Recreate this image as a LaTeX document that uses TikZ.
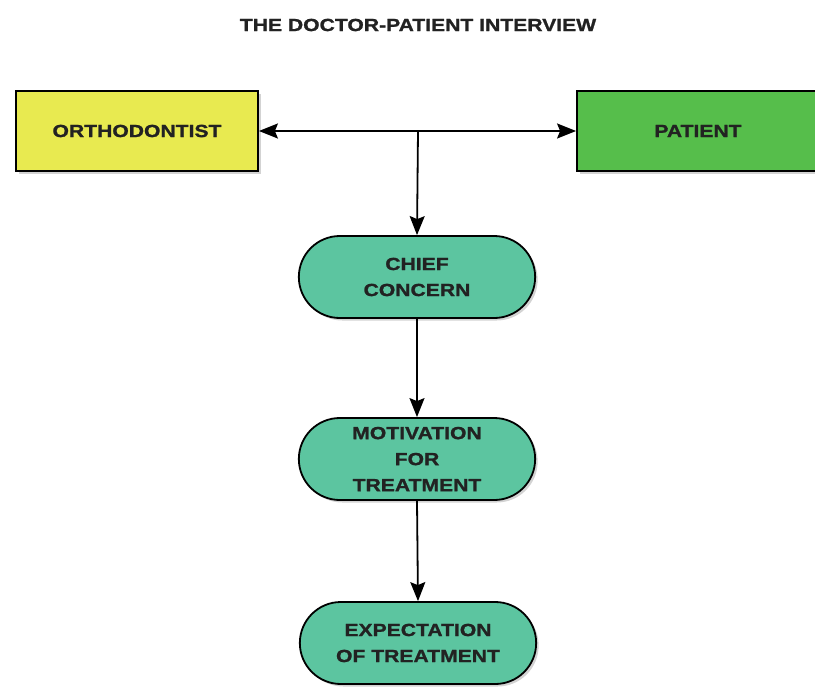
\documentclass[tikz,border=0pt]{standalone}
\usepackage{fontspec}
\setmainfont{Liberation Sans}
\newfontfamily\heavysans[FakeStretch=1.2, FakeBold=1.2]{Liberation Sans Bold}
\usetikzlibrary{arrows.meta,shapes.misc,shadows}
\definecolor{orthoyellow}{HTML}{E8EA50}
\definecolor{patgreen}{HTML}{56BE4B}
\definecolor{pillteal}{HTML}{5CC5A0}
\definecolor{inkgrey}{HTML}{222222}
\tikzset{
  labeltext/.style={text=inkgrey, font=\heavysans\fontsize{17.6}{26}\selectfont},
  rolebox/.style={labeltext, draw=black, line width=1.8pt, minimum width=242pt, minimum height=80pt,
    drop shadow={shadow xshift=2.5pt, shadow yshift=-2.5pt, opacity=0.35}},
  pill/.style={labeltext, draw=black, line width=1.8pt, fill=pillteal, rounded rectangle,
    minimum width=243pt, minimum height=82pt, align=center,
    drop shadow={shadow xshift=2.5pt, shadow yshift=-2.5pt, opacity=0.35}},
  link/.style={line width=1.8pt, -{Stealth[length=19pt,width=15pt,inset=3pt]}}
}
\begin{document}
\begin{tikzpicture}[x=1pt,y=-1pt]
\useasboundingbox (0,0) rectangle (815,689);
\node[labeltext] (title) at (418,25) {THE DOCTOR-PATIENT INTERVIEW};
\node[rolebox, fill=orthoyellow] (ortho) at (137,131) {ORTHODONTIST};
\node[rolebox, fill=patgreen] (patient) at (698,131) {PATIENT};
\node[pill] (chief) at (417,277) {CHIEF\\CONCERN};
\node[pill] (motiv) at (417,459) {MOTIVATION\\FOR\\TREATMENT};
\node[pill] (expect) at (418,643) {EXPECTATION\\OF TREATMENT};
\coordinate (hub) at (418,131);
\draw[link] (hub) -- (ortho.east);
\draw[link] (hub) -- (patient.west);
\draw[link] (hub) -- (chief.north);
\draw[link] (chief.south) -- (motiv.north);
\draw[link] (motiv.south) -- (expect.north);
\end{tikzpicture}
\end{document}
